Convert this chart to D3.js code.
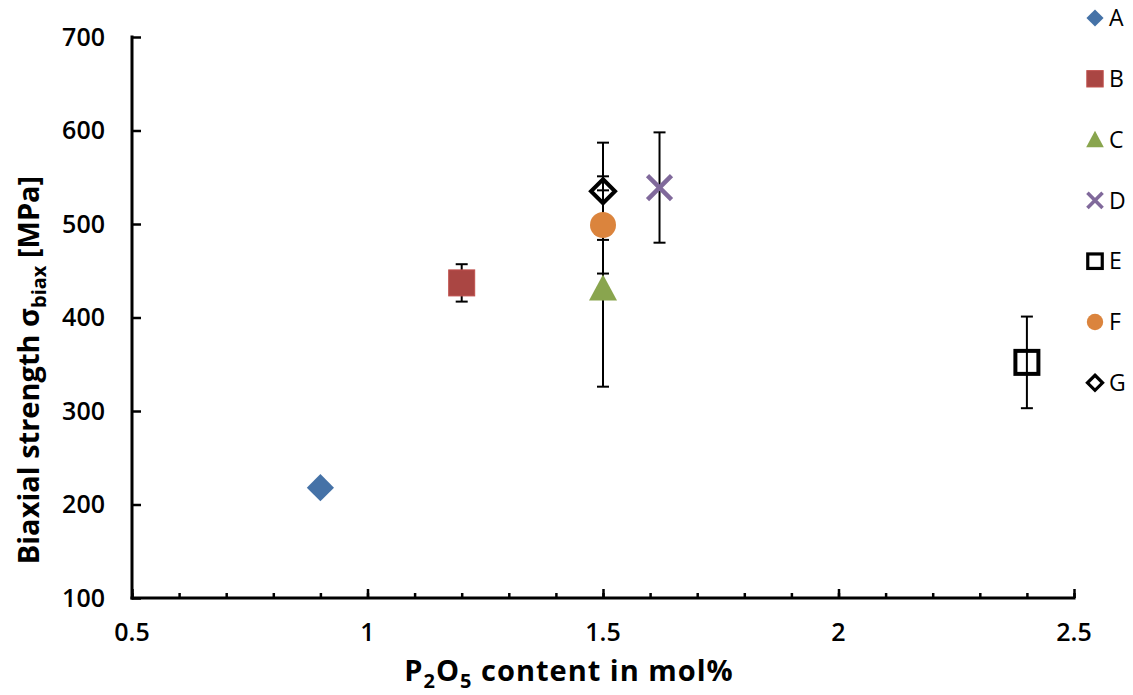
<!DOCTYPE html>
<html>
<head>
<meta charset="utf-8">
<script src="https://cdn.jsdelivr.net/npm/d3@7"></script>
<style>
  body { margin: 0; background: #fff; }
  text { font-family: "Open Sans", "Noto Sans", sans-serif; }
</style>
</head>
<body>
<div id="chart"></div>
<script>
// data
const series = ["A", "B", "C", "D", "E", "F", "G"];
const xVals = [0.9, 1.2, 1.5, 1.62, 2.4, 1.5, 1.5];
const yVals = [218, 437, 431, 539, 352, 499, 535];
const yErr = [0, 20, 105, 59, 49, 52, 52];
const xTicks = [0.5, 1, 1.5, 2, 2.5];
const yTicks = [100, 200, 300, 400, 500, 600, 700];

const colors = ["#4572A7", "#AA4643", "#89A54E", "#80699B", "#000000", "#DB843D", "#000000"];

const width = 1133, height = 695;
const margin = { left: 132, right: 59, top: 37, bottom: 97 };

const svg = d3.select("#chart").append("svg")
  .attr("width", width)
  .attr("height", height);

const x = d3.scaleLinear().domain([0.5, 2.5]).range([margin.left, width - margin.right]);
const y = d3.scaleLinear().domain([100, 700]).range([height - margin.bottom, margin.top]);

// axes, ticks pointing inward like the excel chart
const gx = svg.append("g").attr("transform", `translate(0,${y(100)})`);
gx.call(d3.axisTop(x).tickValues(d3.range(0.5, 2.51, 0.1)).tickSize(5).tickFormat(""));
gx.call(g => g.selectAll(".tick line").attr("stroke-width", 2.5));
gx.select(".domain").remove();
const gxMajor = svg.append("g").attr("transform", `translate(0,${y(100)})`)
  .call(d3.axisTop(x).tickValues(xTicks).tickSize(9).tickFormat(""));
gxMajor.selectAll(".tick line").attr("stroke-width", 2.5);
gxMajor.select(".domain").remove();

const gy = svg.append("g").attr("transform", `translate(${x(0.5)},0)`)
  .call(d3.axisRight(y).tickValues(yTicks).tickSize(9).tickFormat(""));
gy.selectAll(".tick line").attr("stroke-width", 2.5);
gy.select(".domain").remove();

svg.append("line")
  .attr("x1", x(0.5)).attr("x2", x(0.5))
  .attr("y1", y(700) - 1.5).attr("y2", y(100) + 1.5)
  .attr("stroke", "#000").attr("stroke-width", 3);
svg.append("line")
  .attr("x1", x(0.5) - 1.5).attr("x2", x(2.5) + 1.5)
  .attr("y1", y(100)).attr("y2", y(100))
  .attr("stroke", "#000").attr("stroke-width", 3);

// tick labels
svg.selectAll(".ylab").data(yTicks).enter().append("text")
  .attr("x", x(0.5) - 27)
  .attr("y", d => y(d))
  .attr("dy", "0.35em")
  .attr("text-anchor", "end")
  .style("font-size", "25px")
  .style("font-weight", "600")
  .text(d => d);

svg.selectAll(".xlab").data(xTicks).enter().append("text")
  .attr("x", d => x(d))
  .attr("y", y(100) + 34)
  .attr("dy", "0.35em")
  .attr("text-anchor", "middle")
  .style("font-size", "25px")
  .style("font-weight", "600")
  .text(d => d);

// axis titles
const xt = svg.append("text")
  .attr("x", 569)
  .attr("y", 681)
  .attr("text-anchor", "middle")
  .style("font-size", "29px")
  .style("letter-spacing", "1px")
  .style("font-weight", "700");
xt.append("tspan").text("P");
xt.append("tspan").attr("dy", 7).style("font-size", "20px").text("2");
xt.append("tspan").attr("dy", -7).text("O");
xt.append("tspan").attr("dy", 7).style("font-size", "20px").text("5");
xt.append("tspan").attr("dy", -7).text(" content in mol%");

const yt = svg.append("text")
  .attr("transform", `translate(39,${370}) rotate(-90)`)
  .attr("text-anchor", "middle")
  .style("font-size", "29px")
  .style("font-weight", "700");
yt.append("tspan").text("Biaxial strength σ");
yt.append("tspan").attr("dy", 7).style("font-size", "20px").text("biax");
yt.append("tspan").attr("dy", -7).text(" [MPa]");

// error bars
const pts = series.map((s, i) => ({ s, i, x: xVals[i], y: yVals[i], e: yErr[i] }));
const eb = svg.append("g");
pts.filter(d => d.e > 0).forEach(d => {
  const g = eb.append("g").attr("stroke", "#000").attr("stroke-width", 2);
  g.append("line").attr("x1", x(d.x)).attr("x2", x(d.x)).attr("y1", y(d.y - d.e)).attr("y2", y(d.y + d.e));
  [d.y - d.e, d.y + d.e].forEach(v => {
    g.append("line").attr("x1", x(d.x) - 6).attr("x2", x(d.x) + 6).attr("y1", y(v)).attr("y2", y(v));
  });
});

// markers
function drawMarker(g, i, s) {
  const c = colors[i];
  const k = s / 27;
  if (i === 0) {
    g.append("path").attr("d", d3.symbol(d3.symbolSquare, 370 * k * k)()).attr("transform", "rotate(45)").attr("fill", c);
  } else if (i === 1) {
    g.append("rect").attr("x", -13 * k).attr("y", -13 * k).attr("width", 26 * k).attr("height", 26 * k)
      .attr("fill", c).attr("stroke", "#c0504d").attr("stroke-width", 1);
  } else if (i === 2) {
    g.append("path").attr("d", `M0,${-14 * k}L${14 * k},${12 * k}L${-14 * k},${12 * k}Z`).attr("fill", c);
  } else if (i === 3) {
    g.append("path").attr("d", `M${-12 * k},${-12 * k}L${12 * k},${12 * k}M${12 * k},${-12 * k}L${-12 * k},${12 * k}`)
      .attr("stroke", c).attr("stroke-width", 4.5 * Math.max(k, 0.8)).attr("fill", "none");
  } else if (i === 4) {
    g.append("rect").attr("x", -11.5 * k).attr("y", -11.5 * k).attr("width", 23 * k).attr("height", 23 * k)
      .attr("fill", "none").attr("stroke", c).attr("stroke-width", 4 * Math.max(k, 0.8));
  } else if (i === 5) {
    g.append("circle").attr("r", 13 * k).attr("fill", c);
  } else {
    g.append("path").attr("d", `M0,${-12 * k}L${12 * k},0L0,${12 * k}L${-12 * k},0Z`)
      .attr("fill", "none").attr("stroke", c).attr("stroke-width", 4 * Math.max(k, 0.8));
  }
}

series.forEach((s, i) => {
  const g = svg.append("g").attr("transform", `translate(${x(xVals[i])},${y(yVals[i])})`);
  drawMarker(g, i, 27);
});

// legend
const legend = svg.append("g").attr("transform", "translate(1095,18)");
series.forEach((s, i) => {
  const row = legend.append("g").attr("transform", `translate(0,${i * 60.8})`);
  drawMarker(row, i, 17);
  row.append("text")
    .attr("x", 14)
    .attr("y", 0)
    .attr("dy", "0.36em")
    .style("font-size", "23px")
    .text(s);
});
</script>
</body>
</html>
